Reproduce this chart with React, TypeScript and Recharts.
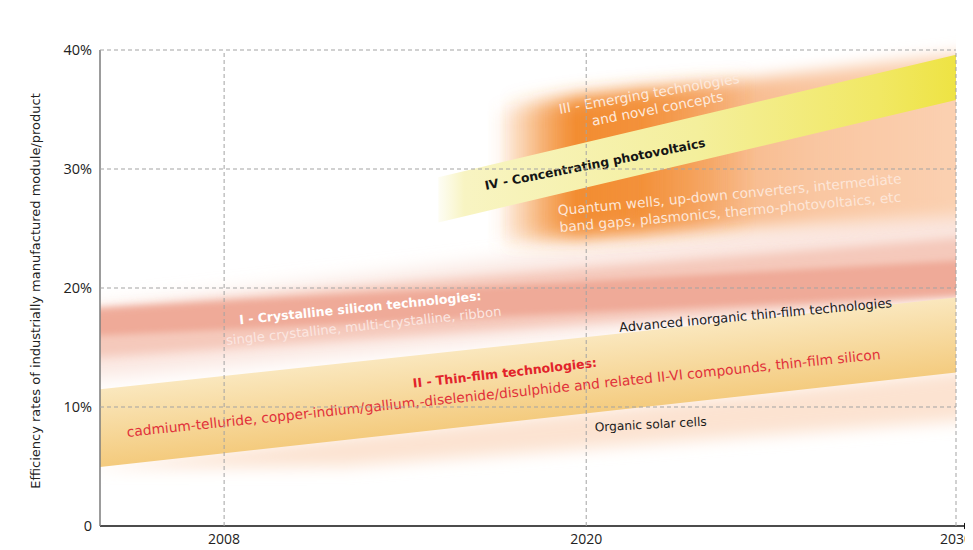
import { ComposedChart, Area, XAxis, YAxis, ReferenceLine, ReferenceDot, Label } from 'recharts'

// The time axis is schematic: each labelled year sits at a fixed spot (0..100 along the axis)
const axisYears = [2004, 2008, 2020, 2030]
const axisStops = [0, 14.5, 56.8, 100]
const yearTicks = [2008, 2020, 2030]
const pctTicks = [0, 10, 20, 30, 40]
const gridPcts = [10, 20, 30, 40]

const edgeYears = [2004, 2030]

// I - crystalline silicon, drawn as three soft red layers
const siHazeLow = [12.5, 19.0]
const siHazeHigh = [18.3, 26.8]
const siBodyLow = [14.2, 19.2]
const siBodyHigh = [18.3, 24.2]
const siCoreLow = [16.0, 19.4]
const siCoreHigh = [18.3, 22.3]

// II - thin film
const tfLow = [4.96, 12.9]
const tfHigh = [11.5, 19.2]
const tfGlowYears = [2004, 2012, 2030]
const tfGlowLow = [4.9, 5.0, 8.8]
const tfGlowHigh = [5.0, 7.5, 13.0]

// III - emerging technologies
const emYears = [2016.7, 2031]
const emLow = [23.8, 26.1]
const emHigh = [34.9, 40]
const emCoreYears = [2017.1, 2024.6]
const emCoreLow = [23.9, 25.6]
const emCoreHigh = [35.3, 37.6]

// IV - concentrating PV
const cpvYears = [2015.1, 2030]
const cpvLow = [25.5, 35.8]
const cpvHigh = [29.3, 39.6]

const notes = [
  { text: 'I - Crystalline silicon technologies:', year: 2012.53, pct: 17.97, angle: -5.7, kind: 'siTitle' },
  { text: 'single crystalline, multi-crystalline, ribbon', year: 2012.64, pct: 16.44, angle: -6.1, kind: 'siSub' },
  { text: 'II - Thin-film technologies:', year: 2017.32, pct: 12.5, angle: -6.5, kind: 'tfTitle' },
  {
    text: 'cadmium-telluride, copper-indium/gallium,-diselenide/disulphide and related II-VI compounds, thin-film silicon',
    year: 2017.28,
    pct: 10.76,
    angle: -5.9,
    kind: 'tfSub',
  },
  { text: 'Advanced inorganic thin-film technologies', year: 2024.59, pct: 17.35, angle: -5.2, kind: 'plain' },
  { text: 'Organic solar cells', year: 2021.75, pct: 8.19, angle: -3, kind: 'plainSmall' },
  { text: 'IV - Concentrating photovoltaics', year: 2020.26, pct: 30.06, angle: -11.1, kind: 'cpv' },
  { text: 'III - Emerging technologies', year: 2021.72, pct: 35.94, angle: -9.8, kind: 'emerging' },
  { text: 'and novel concepts', year: 2021.95, pct: 34.68, angle: -10.8, kind: 'emerging' },
  { text: 'Quantum wells, up-down converters, intermediate', year: 2023.89, pct: 27.46, angle: -5.3, kind: 'emergingSub' },
  { text: 'band gaps, plasmonics, thermo-photovoltaics, etc', year: 2023.91, pct: 25.99, angle: -5.1, kind: 'emergingSub' },
]

const noteFont = '"DejaVu Sans", Verdana, sans-serif'

const noteStyles: Record<string, React.SVGProps<SVGTextElement>> = {
  siTitle: { fill: '#ffffff', fontWeight: 700, fontSize: 12.5 },
  siSub: { fill: '#fbe6e1', fontSize: 13.2 },
  tfTitle: { fill: '#e2232b', fontWeight: 700, fontSize: 12.5 },
  tfSub: { fill: '#e1313a', fontSize: 13.8 },
  plain: { fill: '#1c1c1c', fontSize: 13 },
  plainSmall: { fill: '#1c1c1c', fontSize: 12.2 },
  cpv: { fill: '#151515', fontWeight: 700, fontSize: 12.3 },
  emerging: { fill: '#fde9dc', fontSize: 13.7 },
  emergingSub: { fill: '#fde6d8', fontSize: 13.7 },
}

function toPos(year: number) {
  let i = 1
  while (i < axisYears.length - 1 && year > axisYears[i]) i++
  const y0 = axisYears[i - 1]
  const y1 = axisYears[i]
  return axisStops[i - 1] + ((year - y0) / (y1 - y0)) * (axisStops[i] - axisStops[i - 1])
}

function band(years: number[], low: number[], high: number[]) {
  return years.map((y, i) => ({ x: toPos(y), range: [low[i], high[i]] }))
}

const siHaze = band(edgeYears, siHazeLow, siHazeHigh)
const siBody = band(edgeYears, siBodyLow, siBodyHigh)
const siCore = band(edgeYears, siCoreLow, siCoreHigh)
const thinFilm = band(edgeYears, tfLow, tfHigh)
const thinFilmGlow = band(tfGlowYears, tfGlowLow, tfGlowHigh)
const emerging = band(emYears, emLow, emHigh)
const emergingCore = band(emCoreYears, emCoreLow, emCoreHigh)
const cpv = band(cpvYears, cpvLow, cpvHigh)

const fontFamily = '"Open Sans", "DejaVu Sans", sans-serif'
const gridStyle = { stroke: '#a3a3a3', strokeDasharray: '4 3', strokeWidth: 1 }

function yearLabel(v: number) {
  const y = yearTicks.find((t) => Math.abs(toPos(t) - v) < 1e-6)
  return y ? String(y) : ''
}

export default function App() {
  return (
    <ComposedChart
      width={965}
      height={542}
      margin={{ top: 42, right: 17, bottom: 0, left: 0 }}
      style={{ fontFamily }}
    >
      <defs>
        <marker
          id="axisArrow"
          markerUnits="userSpaceOnUse"
          markerWidth="18"
          markerHeight="10"
          refX="0"
          refY="5"
          orient="auto"
          overflow="visible"
        >
          <path d="M0 5 H10" stroke="#111" strokeWidth="1.5" />
          <path d="M8 1.8 L16 5 L8 8.2 Z" fill="#111" />
        </marker>
        <filter id="softV3" x="-5%" y="-50%" width="110%" height="200%">
          <feGaussianBlur stdDeviation="0 3" />
        </filter>
        <filter id="softV5" x="-5%" y="-50%" width="110%" height="200%">
          <feGaussianBlur stdDeviation="0 5" />
        </filter>
        <filter id="softV8" x="-5%" y="-80%" width="110%" height="260%">
          <feGaussianBlur stdDeviation="0 8" />
        </filter>
        <filter id="softV10" x="-5%" y="-50%" width="110%" height="200%">
          <feGaussianBlur stdDeviation="0 10" />
        </filter>
        <linearGradient id="thinFilmFill" x1="0.5" y1="0.27" x2="0.69" y2="0.62">
          <stop offset="0" stopColor="#fae7bd" />
          <stop offset="1" stopColor="#f4cb7e" />
        </linearGradient>
        <linearGradient id="cpvFill" x1="0" y1="0" x2="1" y2="0">
          <stop offset="0" stopColor="#f8f5c8" stopOpacity="0.2" />
          <stop offset="0.05" stopColor="#f8f4c2" />
          <stop offset="0.5" stopColor="#f4ef9c" />
          <stop offset="0.85" stopColor="#f1e864" />
          <stop offset="1" stopColor="#eee343" />
        </linearGradient>
        <linearGradient id="emergingFill" x1="0" y1="0" x2="1" y2="0">
          <stop offset="0" stopColor="#f6a565" stopOpacity="0" />
          <stop offset="0.08" stopColor="#f6a565" stopOpacity="0.25" />
          <stop offset="0.2" stopColor="#f5a362" stopOpacity="0.75" />
          <stop offset="0.4" stopColor="#f7b481" />
          <stop offset="0.65" stopColor="#f9c6a1" />
          <stop offset="1" stopColor="#fbd3b5" />
        </linearGradient>
        <linearGradient id="emergingCoreFill" x1="0" y1="0" x2="1" y2="0">
          <stop offset="0" stopColor="#f28a2c" stopOpacity="0" />
          <stop offset="0.12" stopColor="#f28a2c" stopOpacity="0.35" />
          <stop offset="0.3" stopColor="#f28a2c" stopOpacity="0.95" />
          <stop offset="0.55" stopColor="#f28a2c" stopOpacity="0.85" />
          <stop offset="1" stopColor="#f28a2c" stopOpacity="0" />
        </linearGradient>
      </defs>

      <XAxis
        type="number"
        dataKey="x"
        domain={[0, 100]}
        allowDataOverflow
        ticks={yearTicks.map(toPos)}
        tickFormatter={yearLabel}
        height={24}
        tickLine={false}
        axisLine={{ stroke: '#111', strokeWidth: 1.5, markerEnd: 'url(#axisArrow)' }}
        tick={{ fill: '#222', fontSize: 14 }}
      />
      <YAxis
        type="number"
        domain={[0, 40]}
        ticks={pctTicks}
        tickFormatter={(v: number) => (v === 0 ? '0' : `${v}%`)}
        width={92}
        tickLine={false}
        axisLine={{ stroke: '#7b7b7b', strokeWidth: 1.5 }}
        tick={{ fill: '#222', fontSize: 14.5 }}
      >
        <Label
          content={({ viewBox }: any) => {
            const cx = viewBox.x + 27
            const cy = viewBox.y + viewBox.height / 2 + 3
            return (
              <text
                x={cx}
                y={cy}
                transform={`rotate(-90 ${cx} ${cy})`}
                textAnchor="middle"
                dominantBaseline="central"
                fill="#222"
                fontSize={13}
                fontFamily={noteFont}
              >
                Efficiency rates of industrially manufactured module/product
              </text>
            )
          }}
        />
      </YAxis>

      <Area data={siHaze} dataKey="range" type="linear" stroke="none" fill="#f7d5ca" filter="url(#softV10)" isAnimationActive={false} />
      <Area data={siBody} dataKey="range" type="linear" stroke="none" fill="#f1b5a4" filter="url(#softV5)" isAnimationActive={false} />
      <Area data={siCore} dataKey="range" type="linear" stroke="none" fill="#eb9581" filter="url(#softV3)" isAnimationActive={false} />
      <Area data={thinFilmGlow} dataKey="range" type="linear" stroke="none" fill="#fbdcc6" fillOpacity={0.8} filter="url(#softV8)" isAnimationActive={false} />
      <Area data={thinFilm} dataKey="range" type="linear" stroke="none" fill="url(#thinFilmFill)" fillOpacity={1} isAnimationActive={false} />
      <Area data={emerging} dataKey="range" type="linear" stroke="none" fill="url(#emergingFill)" fillOpacity={1} filter="url(#softV8)" isAnimationActive={false} />
      <Area data={emergingCore} dataKey="range" type="linear" stroke="none" fill="url(#emergingCoreFill)" fillOpacity={1} filter="url(#softV10)" isAnimationActive={false} />
      <Area data={cpv} dataKey="range" type="linear" stroke="none" fill="url(#cpvFill)" fillOpacity={1} isAnimationActive={false} />

      {notes.map((n, i) => (
        <ReferenceDot
          key={i}
          x={toPos(n.year)}
          y={n.pct}
          r={0}
          zIndex={700}
          shape={(p: any) => (
            <text
              x={p.cx}
              y={p.cy}
              transform={`rotate(${n.angle} ${p.cx} ${p.cy})`}
              textAnchor="middle"
              fontFamily={noteFont}
              {...noteStyles[n.kind]}
            >
              {n.text}
            </text>
          )}
        />
      ))}

      {gridPcts.map((v) => (
        <ReferenceLine key={`h${v}`} y={v} zIndex={800} {...gridStyle} />
      ))}
      {yearTicks.map((t) => (
        <ReferenceLine key={`v${t}`} x={toPos(t)} zIndex={800} {...gridStyle} />
      ))}
    </ComposedChart>
  )
}
